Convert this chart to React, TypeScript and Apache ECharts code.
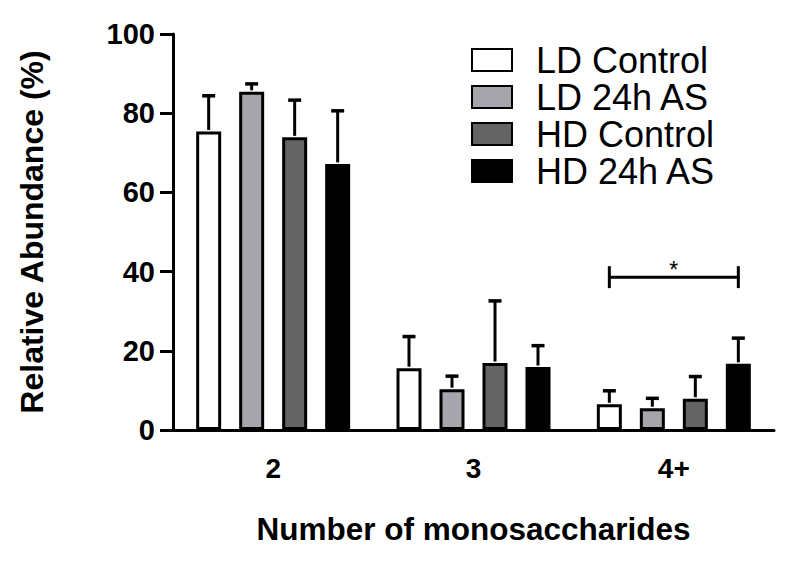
import React, { useEffect, useRef } from "react";
import * as echarts from "echarts";

const categories = ["2", "3", "4+"];
const seriesNames = ["LD Control", "LD 24h AS", "HD Control", "HD 24h AS"];
const seriesColors = ["#ffffff", "#a7a5ac", "#646464", "#000000"];
const ldControl = [75.4, 15.6, 6.5];
const ld24h = [85.4, 10.3, 5.5];
const hdControl = [73.9, 16.9, 7.9];
const hd24h = [67.2, 15.9, 16.7];
const ldControlUpper = [84.4, 23.6, 9.9];
const ld24hUpper = [87.4, 13.6, 8.0];
const hdControlUpper = [83.3, 32.6, 13.5];
const hd24hUpper = [80.6, 21.3, 23.2];
const yTicks = [0, 20, 40, 60, 80, 100];
// significance bracket: category index, from series, to series, level
const sigBracket = [[2, 0, 3, 38.6]];

const means = [ldControl, ld24h, hdControl, hd24h];
const uppers = [ldControlUpper, ld24hUpper, hdControlUpper, hd24hUpper];

const FONT = "'Liberation Sans', Arial, Helvetica, sans-serif";
const BAR_W = 25;
const BAR_STEP = 43;

export default function App() {
  const ref = useRef<HTMLDivElement>(null);
  useEffect(() => {
    if (!ref.current) return;
    const chart = echarts.init(ref.current, null, { renderer: "svg" });
    const barSeries = seriesNames.map((name, i) => ({
      name,
      type: "bar",
      data: means[i],
      barWidth: BAR_W,
      barGap: ((BAR_STEP - BAR_W) / BAR_W) * 100 + "%",
      itemStyle: { color: seriesColors[i], borderColor: "#000", borderWidth: 3 },
      emphasis: { disabled: true },
      z: 2,
    }));
    const errData: number[][] = [];
    means.forEach((arr, si) =>
      arr.forEach((m, ci) => errData.push([ci, m, uppers[si][ci], si]))
    );
    const nS = seriesNames.length;
    const errSeries = {
      type: "custom",
      data: errData,
      z: 3,
      silent: true,
      renderItem: (params: any, api: any) => {
        const ci = api.value(0);
        const m = api.value(1);
        const up = api.value(2);
        const si = api.value(3);
        const base = api.coord([ci, m]);
        const top = api.coord([ci, up]);
        const x = base[0] + (si - (nS - 1) / 2) * BAR_STEP;
        return {
          type: "group",
          children: [
            { type: "line", shape: { x1: x, y1: base[1] - 1.5, x2: x, y2: top[1] }, style: { stroke: "#000", lineWidth: 3 } },
            { type: "line", shape: { x1: x - 6.5, y1: top[1], x2: x + 6.5, y2: top[1] }, style: { stroke: "#000", lineWidth: 3.5 } },
          ],
        };
      },
    };
    const sigSeries = {
      type: "custom",
      data: sigBracket,
      z: 3,
      silent: true,
      renderItem: (params: any, api: any) => {
        const ci = api.value(0);
        const s0 = api.value(1);
        const s1 = api.value(2);
        const lvl = api.value(3);
        const p = api.coord([ci, lvl]);
        const x0 = p[0] + (s0 - (nS - 1) / 2) * BAR_STEP;
        const x1 = p[0] + (s1 - (nS - 1) / 2) * BAR_STEP;
        return {
          type: "group",
          children: [
            { type: "line", shape: { x1: x0, y1: p[1], x2: x1, y2: p[1] }, style: { stroke: "#000", lineWidth: 3 } },
            { type: "line", shape: { x1: x0, y1: p[1] - 11, x2: x0, y2: p[1] + 11 }, style: { stroke: "#000", lineWidth: 3 } },
            { type: "line", shape: { x1: x1, y1: p[1] - 11, x2: x1, y2: p[1] + 11 }, style: { stroke: "#000", lineWidth: 3 } },
            {
              type: "text",
              x: (x0 + x1) / 2,
              y: p[1] + 4,
              style: { text: "*", fill: "#000", font: `23px ${FONT}`, align: "center", verticalAlign: "bottom" },
            },
          ],
        };
      },
    };
    chart.setOption({
      animation: false,
      backgroundColor: "#fff",
      textStyle: { fontFamily: FONT },
      grid: { left: 173, right: 13, top: 34, bottom: 138, containLabel: false },
      legend: {
        data: seriesNames,
        orient: "vertical",
        left: 471,
        top: 42,
        padding: 0,
        itemWidth: 40,
        itemHeight: 22,
        itemGap: 1,
        icon: "rect",
        selectedMode: false,
        textStyle: { fontSize: 36, color: "#000", fontFamily: FONT, padding: [0, 0, 0, 19] },
      },
      xAxis: {
        type: "category",
        data: categories,
        name: "Number of monosaccharides",
        nameLocation: "middle",
        nameGap: 83,
        nameTextStyle: { fontSize: 31.5, fontWeight: "bold", color: "#000", fontFamily: FONT },
        axisLine: { lineStyle: { color: "#000", width: 3 } },
        axisTick: { alignWithLabel: true, length: 13, lineStyle: { color: "#000", width: 3 } },
        axisLabel: { fontSize: 28, fontWeight: "bold", color: "#000", margin: 24, fontFamily: FONT },
      },
      yAxis: {
        type: "value",
        min: yTicks[0],
        max: yTicks[yTicks.length - 1],
        interval: yTicks[1] - yTicks[0],
        name: "Relative Abundance (%)",
        nameLocation: "middle",
        nameGap: 125,
        nameTextStyle: { fontSize: 32, fontWeight: "bold", color: "#000", fontFamily: FONT },
        axisLine: { show: true, lineStyle: { color: "#000", width: 3 } },
        axisTick: { show: true, length: 13, lineStyle: { color: "#000", width: 3 } },
        axisLabel: { fontSize: 29, fontWeight: "bold", color: "#000", margin: 18, fontFamily: FONT },
        splitLine: { show: false },
      },
      series: [...barSeries, errSeries, sigSeries],
    } as any);
    return () => chart.dispose();
  }, []);
  return <div ref={ref} style={{ width: 787, height: 568, position: "absolute", left: 0, top: 0 }} />;
}
